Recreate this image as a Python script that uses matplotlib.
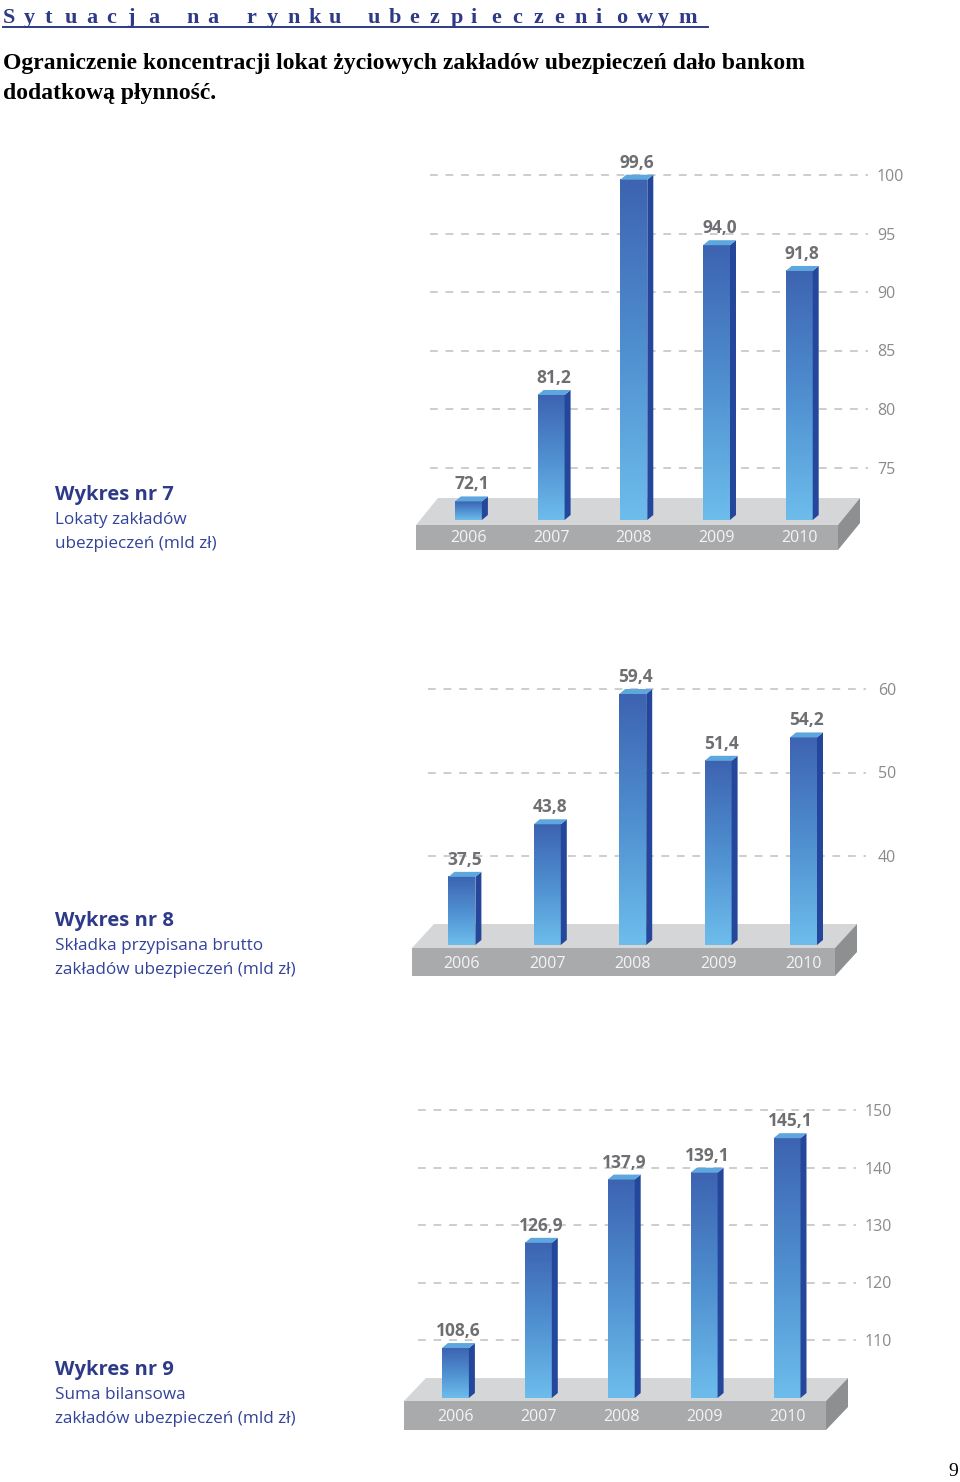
import numpy as np
import matplotlib
matplotlib.use('Agg')
import matplotlib.pyplot as plt
import matplotlib.transforms as mtransforms
from matplotlib.colors import LinearSegmentedColormap
from matplotlib.patches import Polygon
from matplotlib.lines import Line2D

# data
years = ['2006', '2007', '2008', '2009', '2010']
lokaty = [72.1, 81.2, 99.6, 94.0, 91.8]
skladka = [37.5, 43.8, 59.4, 51.4, 54.2]
suma = [108.6, 126.9, 137.9, 139.1, 145.1]
ticks_7 = [75, 80, 85, 90, 95, 100]
ticks_8 = [40, 50, 60]
ticks_9 = [110, 120, 130, 140, 150]

W, H = 960, 1482
NAVY = '#2e3a87'
SANS = ['Open Sans', 'DejaVu Sans']
SERIF = ['Liberation Serif', 'DejaVu Serif']

fig = plt.figure(figsize=(W / 100, H / 100), dpi=100)
# image pixel coordinates (origin top-left)
pix = mtransforms.Affine2D().scale(1 / W, -1 / H).translate(0, 1) + fig.transFigure

cmap = LinearSegmentedColormap.from_list('bar', ['#6dbdec', '#4f8fd0', '#3d63b1'])
grad = np.linspace(0, 1, 256).reshape(-1, 1)


def fmt(v):
    return f'{v:.1f}'.replace('.', ',')


def draw_chart(values, ticks, title, sub1, sub2, lay):
    c0, sp, k = lay['c0'], lay['sp'], lay['k']
    ref_val, ref_px = lay['ref']
    base_px, top_px = lay['base_px'], lay['top_px']
    gl, gr = lay['grid']
    base_val = ref_val - (base_px - ref_px) / k
    ymax = ref_val + (ref_px - top_px) / k

    ax = fig.add_axes([gl / W, 1 - base_px / H, (gr - gl) / W, (base_px - top_px) / H])
    ax.patch.set_alpha(0)
    for s in ax.spines.values():
        s.set_visible(False)

    # platform slab
    fl, fr, ft, fb, by, sh = lay['plat']
    ax.add_patch(Polygon([(fl, ft), (fr, ft), (fr + sh, by), (fl + sh, by)],
                         closed=True, transform=pix, clip_on=False,
                         facecolor='#d5d6d8', edgecolor='none', zorder=0.3))
    ax.add_patch(Polygon([(fl, ft), (fr, ft), (fr, fb), (fl, fb)],
                         closed=True, transform=pix, clip_on=False,
                         facecolor='#a9aaac', edgecolor='none', zorder=0.3))
    ax.add_patch(Polygon([(fr, ft), (fr + sh, by), (fr + sh, by + (fb - ft)), (fr, fb)],
                         closed=True, transform=pix, clip_on=False,
                         facecolor='#8e8f91', edgecolor='none', zorder=0.3))

    w = 27 / sp
    dxd = 6 / sp
    dyd = 5 / k
    for i, v in enumerate(values):
        x0, x1 = i - w / 2, i + w / 2
        ax.imshow(grad, cmap=cmap, extent=[x0, x1, base_val, v], origin='lower',
                  aspect='auto', interpolation='bilinear', zorder=2)
        ax.add_patch(Polygon([(x1, base_val), (x1 + dxd, base_val + dyd),
                              (x1 + dxd, v + dyd), (x1, v)],
                             closed=True, facecolor='#25479b', edgecolor='none', zorder=2))
        ax.add_patch(Polygon([(x0, v), (x1, v), (x1 + dxd, v + dyd), (x0 + dxd, v + dyd)],
                             closed=True, facecolor='#5ea7de', edgecolor='none', zorder=2))
        ax.annotate(fmt(v), (i + dxd / 2, v + dyd), xytext=(0, 3),
                    textcoords='offset pixels', ha='center', va='bottom',
                    fontsize=12.5, fontweight='bold', color='#6e6f72', family=SANS,
                    zorder=3)

    yr = mtransforms.blended_transform_factory(ax.transData, pix)
    for i, y in enumerate(years):
        ax.text(i, lay['year_y'], y, transform=yr, ha='center', va='center',
                fontsize=11.5, color='#f4f4f4', family=SANS, zorder=3)

    ax.set_xlim((gl - c0) / sp, (gr - c0) / sp)
    ax.set_ylim(base_val, ymax)
    ax.set_xticks([])
    ax.set_yticks(ticks)
    ax.yaxis.tick_right()
    ax.tick_params(axis='y', length=0, pad=lay['pad'], labelsize=11.5, labelcolor='#8a8a8a')
    for t in ax.get_yticklabels():
        t.set_family(SANS)
    ax.grid(axis='y', color='#cdcdcd', linestyle=(0, (4, 4)), linewidth=1.4)
    ax.set_axisbelow(True)

    ty = lay['text_y']
    fig.text(55, ty, title, transform=pix, va='center', ha='left', fontsize=14.5,
             fontweight='bold', color=NAVY, family=SANS)
    fig.text(55, ty + 25, sub1, transform=pix, va='center', ha='left', fontsize=12.3,
             color='#34439a', family=SANS)
    fig.text(55, ty + 49, sub2, transform=pix, va='center', ha='left', fontsize=12.3,
             color='#34439a', family=SANS)
    return ax


# header, letter-spaced
header = 'Sytuacja na rynku ubezpieczeniowym'
x = 3.0
for ch in header:
    if ch == ' ':
        x += 18
        continue
    fig.text(x, 18, ch, transform=pix, va='center', ha='left', fontsize=16,
             fontweight='bold', color=NAVY, family=SERIF)
    x += 20.7
fig.add_artist(Line2D([3, 708], [27, 27], transform=pix, color=NAVY, lw=1.4))

fig.text(3, 64, 'Ograniczenie koncentracji lokat życiowych zakładów ubezpieczeń dało bankom',
         transform=pix, va='center', ha='left', fontsize=17, fontweight='bold',
         color='black', family=SERIF)
fig.text(3, 94, 'dodatkową płynność.', transform=pix, va='center', ha='left',
         fontsize=17, fontweight='bold', color='black', family=SERIF)

draw_chart(lokaty, ticks_7, 'Wykres nr 7', 'Lokaty zakładów', 'ubezpieczeń (mld zł)',
           dict(c0=468.4, sp=82.7, k=11.7, ref=(100, 175), base_px=520, top_px=140,
                grid=(430, 868), pad=6.5, plat=(416, 838, 525, 550, 498, 22),
                year_y=538, text_y=495))

draw_chart(skladka, ticks_8, 'Wykres nr 8', 'Składka przypisana brutto',
           'zakładów ubezpieczeń (mld zł)',
           dict(c0=461.9, sp=85.4, k=8.35, ref=(60, 689), base_px=945, top_px=660,
                grid=(428, 866), pad=8.5, plat=(412, 835, 948, 976, 924, 22),
                year_y=964, text_y=921))

draw_chart(suma, ticks_9, 'Wykres nr 9', 'Suma bilansowa',
           'zakładów ubezpieczeń (mld zł)',
           dict(c0=455.4, sp=82.9, k=5.75, ref=(150, 1110), base_px=1398, top_px=1090,
                grid=(418, 856), pad=6.5, plat=(404, 826, 1401, 1430, 1378, 22),
                year_y=1417, text_y=1370))

fig.text(953, 1472, '9', transform=pix, va='center', ha='center', fontsize=14,
         color='black', family=SERIF)

fig.savefig('out.png', dpi=100)
